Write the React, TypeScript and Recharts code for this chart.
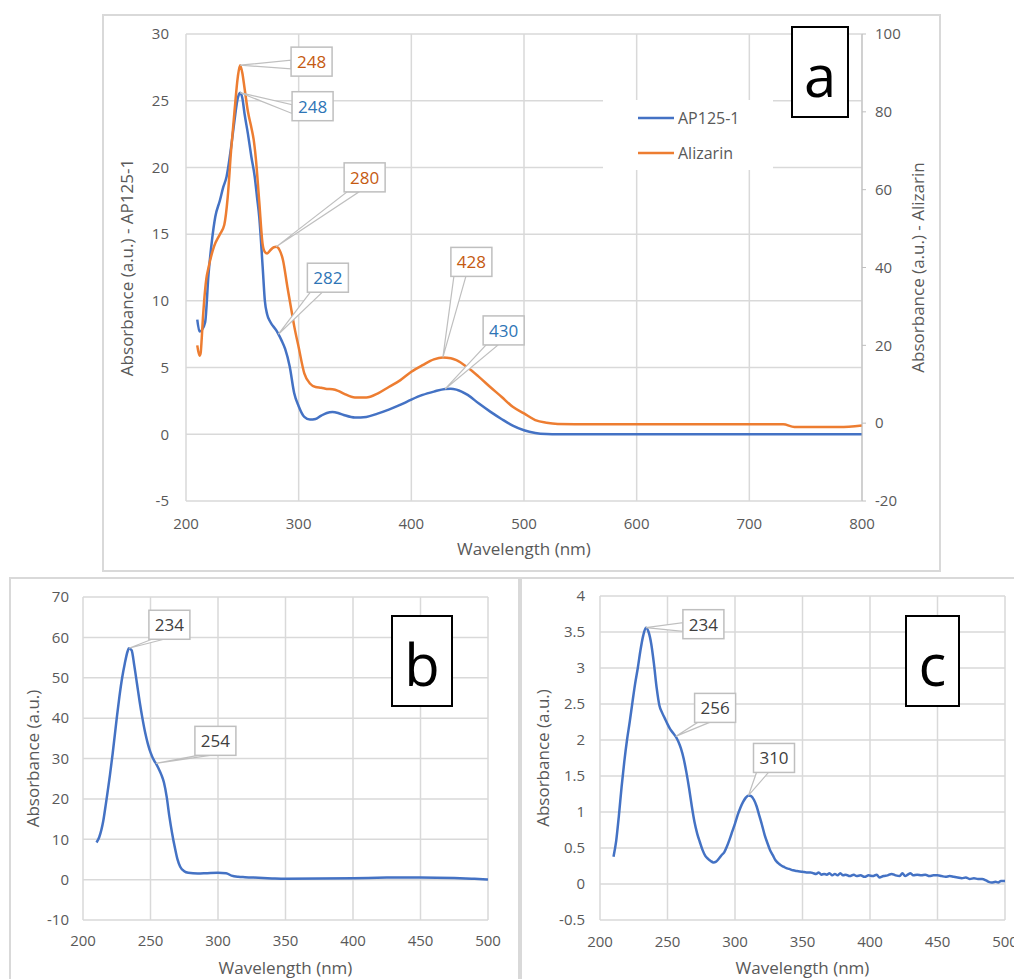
import React from 'react';
import { LineChart, Line, XAxis, YAxis, CartesianGrid, Legend, ReferenceDot, Label } from 'recharts';

// ---- panel a: AP125-1 (left axis) + Alizarin (right axis)
const ap125Wl = [210, 212, 214, 217, 220, 223, 226, 230, 233, 236, 240, 243, 246, 248, 250, 252, 255, 258, 261, 263, 265, 268, 270, 272, 275, 280, 282, 285, 288, 292, 296, 300, 305, 310, 315, 320, 325, 330, 335, 340, 350, 360, 370, 380, 390, 400, 410, 420, 430, 435, 440, 450, 460, 470, 480, 490, 500, 510, 520, 530, 560, 600, 650, 700, 750, 800];
const ap125Abs = [8.6, 7.7, 7.8, 8.4, 12, 14.5, 16.3, 17.5, 18.5, 19.3, 21.5, 23.5, 25.2, 25.6, 25.2, 24, 22.5, 20.8, 19.3, 17.8, 16.3, 12.6, 10, 9, 8.4, 7.8, 7.5, 7, 6.4, 5.1, 3.1, 2.1, 1.3, 1.1, 1.15, 1.4, 1.6, 1.67, 1.6, 1.45, 1.25, 1.3, 1.55, 1.85, 2.2, 2.6, 2.95, 3.2, 3.4, 3.42, 3.35, 2.95, 2.3, 1.7, 1.15, 0.65, 0.3, 0.1, 0.02, 0, 0, 0, 0, 0, 0, 0];

const alizarinWl = [210, 212, 213, 214, 215, 216, 218, 220, 225, 230, 234, 237, 240, 243, 246, 248, 250, 252, 255, 258, 260, 262, 265, 268, 270, 272, 275, 278, 280, 283, 286, 290, 293, 296, 300, 305, 310, 315, 320, 325, 330, 335, 340, 350, 360, 370, 380, 390, 400, 410, 420, 428, 435, 440, 450, 460, 470, 480, 490, 500, 510, 520, 530, 560, 600, 650, 700, 730, 740, 760, 780, 800];
const alizarinAbs = [20, 17.3, 18, 22, 27, 31, 37, 40, 45.5, 48.5, 51, 58, 70, 80, 89, 92, 90, 86, 80, 76, 73, 68, 57, 46, 44, 43.6, 44.5, 45.2, 45.3, 44.5, 42, 35, 30, 25, 19.5, 12.8, 10.2, 9.3, 9.1, 8.8, 8.7, 8.3, 7.6, 6.6, 6.6, 7.6, 9.3, 11, 13.2, 14.9, 16.4, 16.9, 16.7, 16.2, 14.3, 11.9, 9.3, 6.8, 4.2, 2.5, 0.8, 0.1, -0.2, -0.3, -0.3, -0.3, -0.3, -0.3, -1.0, -1.0, -1.0, -0.6];

const aXTicks = [200, 300, 400, 500, 600, 700, 800];
const aLeftTicks = [-5, 0, 5, 10, 15, 20, 25, 30];
const aRightTicks = [-20, 0, 20, 40, 60, 80, 100];
const ap125Peaks = [248, 282, 430];
const alizarinPeaks = [248, 280, 428];

// ---- panel b
const bWl = [210, 212, 215, 217, 220, 222, 225, 227, 229, 231, 233, 234, 236, 238, 240, 242, 244, 246, 248, 250, 253, 254, 256, 258, 260, 262, 264, 266, 268, 270, 272, 275, 278, 285, 292, 300, 306, 310, 315, 320, 330, 340, 350, 375, 400, 425, 450, 475, 490, 500];
const bAbs = [9.2, 10.5, 14.5, 18.9, 26, 31.3, 40, 45.4, 50, 53.6, 56.5, 57.3, 56.8, 53, 48.5, 44, 40, 36.5, 33.7, 31.5, 29.3, 28.8, 27.5, 26, 24, 20.5, 15.6, 11.5, 8, 5, 3.2, 2.1, 1.7, 1.5, 1.6, 1.7, 1.6, 1.0, 0.7, 0.6, 0.45, 0.3, 0.2, 0.25, 0.35, 0.5, 0.55, 0.4, 0.2, 0.05];
const bXTicks = [200, 250, 300, 350, 400, 450, 500];
const bYTicks = [-10, 0, 10, 20, 30, 40, 50, 60, 70];
const bPeaks = [234, 254];

// ---- panel c
const cWl = [210, 212, 214, 216, 218, 220, 222, 224, 226, 228, 230, 232, 234, 236, 238, 240, 242, 244, 246, 248, 250, 252, 254, 256, 258, 260, 262, 264, 266, 268, 270, 272, 274, 276, 278, 280, 282, 284, 286, 288, 290, 292, 294, 296, 298, 300, 302, 304, 306, 308, 310, 312, 314, 316, 318, 320, 322, 324, 326, 328, 330, 332, 334, 336, 338, 340, 343, 346, 350, 353, 356, 358, 360, 362, 364, 366, 368, 370, 372, 374, 376, 378, 380, 382, 385, 388, 390, 393, 396, 399, 402, 405, 407, 410, 413, 416, 419, 422, 424, 426, 428, 430, 432, 435, 438, 441, 444, 447, 450, 453, 456, 459, 462, 465, 468, 471, 474, 477, 480, 483, 486, 488, 490, 493, 495, 497, 500];
const cAbs = [0.38, 0.6, 0.95, 1.35, 1.7, 2.0, 2.25, 2.52, 2.78, 3.0, 3.25, 3.45, 3.56, 3.5, 3.33, 3.05, 2.72, 2.48, 2.38, 2.3, 2.22, 2.15, 2.1, 2.05, 1.98, 1.88, 1.74, 1.55, 1.33, 1.08, 0.86, 0.7, 0.58, 0.47, 0.39, 0.35, 0.32, 0.3, 0.31, 0.35, 0.4, 0.44, 0.52, 0.62, 0.73, 0.84, 0.96, 1.06, 1.14, 1.2, 1.23, 1.22, 1.17, 1.08, 0.95, 0.82, 0.68, 0.57, 0.47, 0.4, 0.33, 0.29, 0.26, 0.24, 0.22, 0.21, 0.19, 0.18, 0.17, 0.16, 0.16, 0.15, 0.14, 0.16, 0.13, 0.14, 0.13, 0.15, 0.12, 0.14, 0.12, 0.15, 0.12, 0.13, 0.11, 0.13, 0.11, 0.12, 0.1, 0.12, 0.11, 0.13, 0.09, 0.11, 0.12, 0.14, 0.12, 0.11, 0.15, 0.11, 0.13, 0.15, 0.12, 0.13, 0.12, 0.13, 0.11, 0.12, 0.12, 0.11, 0.1, 0.11, 0.1, 0.09, 0.08, 0.09, 0.07, 0.08, 0.07, 0.07, 0.05, 0.03, 0.02, 0.03, 0.02, 0.04, 0.04];
const cYTicks = [-0.5, 0, 0.5, 1, 1.5, 2, 2.5, 3, 3.5, 4];
const cPeaks = [234, 256, 310];

// callout box placement relative to the marked point
type Place = { dx: number; dy: number; anchor: 'left' | 'bottom' };
const ap125Place: Place[] = [
  { dx: 52, dy: -1, anchor: 'left' },
  { dx: 29, dy: -71, anchor: 'bottom' },
  { dx: 38, dy: -73, anchor: 'bottom' },
];
const alizarinPlace: Place[] = [
  { dx: 51, dy: -18, anchor: 'left' },
  { dx: 68, dy: -84, anchor: 'bottom' },
  { dx: 8, dy: -110, anchor: 'bottom' },
];
const bPlace: Place[] = [
  { dx: 20, dy: -38, anchor: 'bottom' },
  { dx: 39, dy: -37, anchor: 'bottom' },
];
const cPlace: Place[] = [
  { dx: 37, dy: -18, anchor: 'left' },
  { dx: 19, dy: -43, anchor: 'bottom' },
  { dx: 5, dy: -52, anchor: 'bottom' },
];

const BLUE = '#4472C4';
const ORANGE = '#ED7D31';
const GRID = '#d9d9d9';
const TXT = '#595959';
const tickStyle = { fontSize: 15, fill: TXT };
const titleStyle = { fontSize: 17, fill: TXT, textAnchor: 'middle' as const };

const toPoints = (xs: number[], ys: number[]) => xs.map((x, i) => ({ x, y: ys[i] }));
const valueAt = (xs: number[], ys: number[], x: number) => ys[xs.indexOf(x)];

const calloutShape = (text: string, place: Place, color: string) => (props: any) => {
  const { cx, cy } = props;
  if (cx == null || cy == null) return <g />;
  const w = 41;
  const h = 29;
  const bx = cx + place.dx;
  const by = cy + place.dy;
  const p1 = place.anchor === 'left' ? [bx, by + h * 0.45] : [bx + 3, by + h];
  const p2 = place.anchor === 'left' ? [bx, by + h * 0.75] : [bx + 15, by + h];
  return (
    <g>
      <polygon points={`${cx},${cy} ${p1[0]},${p1[1]} ${p2[0]},${p2[1]}`} fill="#fff" stroke="#bfbfbf" strokeWidth={1.2} />
      <rect x={bx} y={by} width={w} height={h} fill="#fff" stroke="#bfbfbf" strokeWidth={1.5} />
      <text x={bx + w / 2} y={by + h / 2} textAnchor="middle" dominantBaseline="central" fill={color} fontSize={17}>
        {text}
      </text>
    </g>
  );
};

const PanelTag = ({ letter, left, top, width }: { letter: string; left: number; top: number; width: number }) => (
  <div
    style={{
      position: 'absolute', left, top, width, height: 92, boxSizing: 'border-box',
      border: '2px solid #000', background: '#fff', display: 'flex', alignItems: 'center',
      justifyContent: 'center', fontSize: 58, lineHeight: 1, color: '#000', paddingTop: 6,
    }}
  >
    {letter}
  </div>
);

const Frame = ({ left, top, width, height }: { left: number; top: number; width: number; height: number }) => (
  <div style={{ position: 'absolute', left, top, width, height, boxSizing: 'border-box', border: `2px solid ${GRID}` }} />
);

const LegendBox = ({ payload }: any) => (
  <div style={{ width: 170, height: 70, background: '#fff', position: 'relative' }}>
    {(payload ?? []).map((e: any, i: number) => (
      <div key={e.value} style={{ position: 'absolute', left: 35, top: 7 + i * 35, height: 22, display: 'flex', alignItems: 'center' }}>
        <svg width={36} height={4}>
          <line x1={0} y1={2} x2={36} y2={2} stroke={e.color} strokeWidth={2.5} />
        </svg>
        <span style={{ marginLeft: 4, fontSize: 16, color: TXT }}>{e.value}</span>
      </div>
    ))}
  </div>
);

export default function App() {
  const ap125Data = toPoints(ap125Wl, ap125Abs);
  const alizarinData = toPoints(alizarinWl, alizarinAbs);
  const bData = toPoints(bWl, bAbs);
  const cData = toPoints(cWl, cAbs);

  return (
    <div style={{ position: 'absolute', left: 0, top: 0, width: 1014, height: 979, overflow: 'hidden', background: '#fff', fontFamily: "'Open Sans', sans-serif" }}>
      <Frame left={102} top={14} width={839} height={558} />
      <Frame left={9} top={577} width={511} height={420} />
      <Frame left={520} top={577} width={510} height={420} />

      {/* panel a */}
      <div style={{ position: 'absolute', left: 102, top: 14 }}>
        <LineChart width={839} height={557} margin={{ top: 20, right: 19, bottom: 0, left: 24 }}>
          <CartesianGrid stroke={GRID} strokeWidth={1.5} yAxisId="left" />
          <XAxis type="number" dataKey="x" domain={[200, 800]} ticks={aXTicks} interval={0} height={70}
            axisLine={false} tickLine={false} tickSize={6} tickMargin={11} tick={tickStyle}>
            <Label value="Wavelength (nm)" position="center" dy={13} style={titleStyle} />
          </XAxis>
          <YAxis yAxisId="left" type="number" domain={[-5, 30]} ticks={aLeftTicks} interval={0} width={60}
            axisLine={false} tickLine={false} tickSize={6} tickMargin={11} tick={tickStyle}>
            <Label value="Absorbance (a.u.) - AP125-1" position="center" angle={-90} dx={-29} style={titleStyle} />
          </YAxis>
          <YAxis yAxisId="right" orientation="right" type="number" domain={[-20, 100]} ticks={aRightTicks} interval={0} width={60}
            axisLine={{ stroke: '#bfbfbf' }} tickLine={{ stroke: '#bfbfbf' }} tickSize={4} tickMargin={9} tick={tickStyle}>
            <Label value="Absorbance (a.u.) - Alizarin" position="center" angle={-90} dx={26} style={titleStyle} />
          </YAxis>
          <Legend layout="vertical" align="center" verticalAlign="middle"
            wrapperStyle={{ left: 501, top: 86, width: 170, height: 70 }} content={LegendBox} />
          <Line yAxisId="left" data={ap125Data} dataKey="y" name="AP125-1" type="monotone" stroke={BLUE}
            strokeWidth={2.5} dot={false} isAnimationActive={false} />
          <Line yAxisId="right" data={alizarinData} dataKey="y" name="Alizarin" type="monotone" stroke={ORANGE}
            strokeWidth={2.5} dot={false} isAnimationActive={false} />
          {alizarinPeaks.map((p, i) => (
            <ReferenceDot key={`o${p}`} yAxisId="right" x={p} y={valueAt(alizarinWl, alizarinAbs, p)} r={0}
              shape={calloutShape(String(p), alizarinPlace[i], '#C55A11')} />
          ))}
          {ap125Peaks.map((p, i) => (
            <ReferenceDot key={`b${p}`} yAxisId="left" x={p} y={valueAt(ap125Wl, ap125Abs, p)} r={0}
              shape={calloutShape(String(p), ap125Place[i], '#2E75B6')} />
          ))}
        </LineChart>
      </div>
      <PanelTag letter="a" left={791} top={26} width={58} />

      {/* panel b */}
      <div style={{ position: 'absolute', left: 9, top: 577 }}>
        <LineChart width={510} height={402} margin={{ top: 20, right: 31, bottom: 0, left: 14 }}>
          <CartesianGrid stroke={GRID} strokeWidth={1.5} />
          <XAxis type="number" dataKey="x" domain={[200, 500]} ticks={bXTicks} interval={0} height={59}
            axisLine={false} tickLine={false} tickSize={6} tickMargin={9} tick={tickStyle}>
            <Label value="Wavelength (nm)" position="center" dy={18} style={titleStyle} />
          </XAxis>
          <YAxis type="number" domain={[-10, 70]} ticks={bYTicks} interval={0} width={60}
            axisLine={false} tickLine={false} tickSize={6} tickMargin={8} tick={tickStyle}>
            <Label value="Absorbance (a.u.)" position="center" angle={-90} dx={-20} style={titleStyle} />
          </YAxis>
          <Line data={bData} dataKey="y" type="monotone" stroke={BLUE} strokeWidth={2.5} dot={false} isAnimationActive={false} />
          {bPeaks.map((p, i) => (
            <ReferenceDot key={p} x={p} y={valueAt(bWl, bAbs, p)} r={0} shape={calloutShape(String(p), bPlace[i], '#404040')} />
          ))}
        </LineChart>
      </div>
      <PanelTag letter="b" left={391} top={615} width={62} />

      {/* panel c */}
      <div style={{ position: 'absolute', left: 521, top: 577 }}>
        <LineChart width={493} height={402} margin={{ top: 19, right: 9, bottom: 0, left: 19 }}>
          <CartesianGrid stroke={GRID} strokeWidth={1.5} />
          <XAxis type="number" dataKey="x" domain={[200, 500]} ticks={bXTicks} interval={0} height={59}
            axisLine={false} tickLine={false} tickSize={6} tickMargin={10} tick={tickStyle}>
            <Label value="Wavelength (nm)" position="center" dy={18} style={titleStyle} />
          </XAxis>
          <YAxis type="number" domain={[-0.5, 4]} ticks={cYTicks} interval={0} width={60}
            axisLine={false} tickLine={false} tickSize={6} tickMargin={9} tick={tickStyle}>
            <Label value="Absorbance (a.u.)" position="center" angle={-90} dx={-27} style={titleStyle} />
          </YAxis>
          <Line data={cData} dataKey="y" type="monotone" stroke={BLUE} strokeWidth={2.5} dot={false} isAnimationActive={false} />
          {cPeaks.map((p, i) => (
            <ReferenceDot key={p} x={p} y={valueAt(cWl, cAbs, p)} r={0} shape={calloutShape(String(p), cPlace[i], '#404040')} />
          ))}
        </LineChart>
      </div>
      <PanelTag letter="c" left={905} top={615} width={55} />
    </div>
  );
}
